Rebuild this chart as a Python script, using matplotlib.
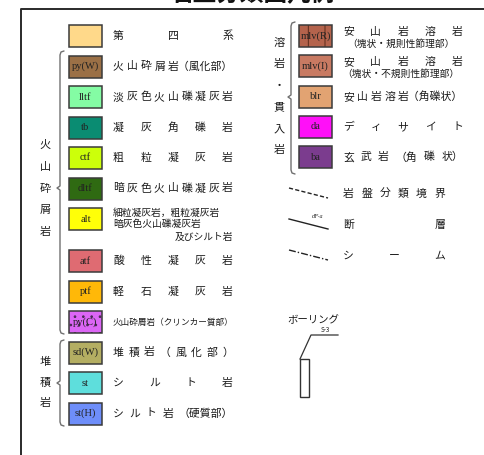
import matplotlib
matplotlib.use("Agg")
import matplotlib.pyplot as plt
from matplotlib.patches import Rectangle

plt.rcParams['font.family'] = ['Noto Sans CJK JP', 'DejaVu Sans']
plt.rcParams['hatch.linewidth'] = 0.7

# ---------------- data ----------------
title = "岩盤分類図凡例"

left_codes = ["", "py(W)", "lltf", "tb", "ctf", "dltf", "alt", "atf", "ptf", "py(C)", "sd(W)", "st", "st(H)"]
left_colors = ["#FFD98A", "#9B7046", "#84FCA4", "#0A8C72", "#CCFF0A", "#2F6A12", "#FFFF08",
               "#DF6B72", "#FFB808", "#DC66F5", "#B4AE62", "#5EDEDC", "#6E8EFA"]
left_labels = [
    ["第 四 系"],
    ["火 山 砕 屑 岩（風化部）"],
    ["淡 灰 色 火 山 礫 凝 灰 岩"],
    ["凝 灰 角 礫 岩"],
    ["粗 粒 凝 灰 岩"],
    ["暗 灰 色 火 山 礫 凝 灰 岩"],
    ["細粒凝灰岩，粗粒凝灰岩", "暗灰色火山礫凝灰岩", "及びシルト岩"],
    ["酸 性 凝 灰 岩"],
    ["軽 石 凝 灰 岩"],
    ["火山砕屑岩（クリンカー質部）"],
    ["堆 積 岩 （ 風 化 部 ）"],
    ["シ ル ト 岩"],
    ["シ ル ト 岩 （硬質部）"],
]

right_codes = ["mlv(R)", "mlv(I)", "blr", "da", "ba"]
right_colors = ["#B4634C", "#C87A62", "#E2A372", "#FF10F8", "#7B3C8E"]
right_labels = [
    ["安 山 岩 溶 岩", "（塊状・規則性節理部）"],
    ["安 山 岩 溶 岩", "（塊状・不規則性節理部）"],
    ["安 山 岩 溶 岩（角礫状）"],
    ["デ ィ サ イ ト"],
    ["玄 武 岩 （角 礫 状）"],
]

group_volcanic = "火山砕屑岩"
group_sediment = "堆積岩"
group_lava = "溶岩・貫入岩"

line_labels = ["岩 盤 分 類 境 界", "断 層", "シ ー ム"]
line_styles = [(0, (3, 1.6)), "-", (0, (5, 1.5, 1, 1.5))]
fault_tag = "dF-a"

boring_label = "ボーリング"
boring_id = "S-3"

# ---------------- figure ----------------
fig = plt.figure(figsize=(4.85, 4.55), dpi=100)
ax = fig.add_axes([0, 0, 1, 1])
ax.set_xlim(0, 485)
ax.set_ylim(455, 0)
ax.axis("off")

PT2PX = 100 / 72.0


def spread(text, x0, x1, y, size, align="justify"):
    tokens = text.split(" ")
    w = size * PT2PX
    widths = [len(t) * w for t in tokens]
    if align == "left" or (len(tokens) == 1 and align != "right"):
        ax.text(x0, y, text.replace(" ", ""), fontsize=size, ha="left", va="center", color="#1a1a1a")
        return
    if align == "right":
        ax.text(x1, y, text.replace(" ", ""), fontsize=size, ha="right", va="center", color="#1a1a1a")
        return
    gap = (x1 - x0 - sum(widths)) / (len(tokens) - 1)
    cx = x0
    for t, tw in zip(tokens, widths):
        ax.text(cx, y, t, fontsize=size, ha="left", va="center", color="#1a1a1a")
        cx += tw + gap


def box(x0, yc, color, code, hatch=None, hatch_color="#333333"):
    bw, bh = 33, 22
    ax.add_patch(Rectangle((x0, yc - bh / 2), bw, bh, facecolor=color, edgecolor="none"))
    if hatch:
        ax.add_patch(Rectangle((x0, yc - bh / 2), bw, bh, facecolor="none",
                               edgecolor=hatch_color, hatch=hatch, lw=0))
    ax.add_patch(Rectangle((x0, yc - bh / 2), bw, bh, facecolor="none",
                           edgecolor="#3a3a3a", lw=1.1))
    if code:
        ax.text(x0 + bw / 2, yc, code, fontsize=7.6, family="Liberation Serif",
                ha="center", va="center", color="#222222")


def brace(x, y0, y1, ym):
    xs = [x + 4, x + 1, x, x, x - 3, x, x, x + 1, x + 4]
    ys = [y0 - 1, y0, y0 + 3, ym - 2, ym, ym + 2, y1 - 3, y1, y1 + 1]
    ax.plot(xs, ys, color="#707070", lw=1.0, solid_capstyle="round")


def vertical(text, x, y0, step, size=8):
    for i, ch in enumerate(text):
        ax.text(x, y0 + i * step, ch, fontsize=size, ha="center", va="center", color="#1a1a1a")


# frame and title
ax.plot([21, 21, 486], [456, 8.5, 8.5], color="#2a2a2a", lw=1.4, clip_on=False)
fig.text(0.52, 1.0 + 6 / 455, title, fontsize=17, fontweight="bold",
         ha="center", va="center", color="#111111")

# left column
lx, ltx0, ltx1 = 69, 113, 233
yc = 36
for i, (code, col, lab) in enumerate(zip(left_codes, left_colors, left_labels)):
    hatch = ".." if code == "py(C)" else None
    box(lx, yc, col, code, hatch=hatch, hatch_color="#4a2a55")
    if len(lab) == 1:
        size = 6.2 if len(lab[0].replace(" ", "")) > 12 else 7.8
        spread(lab[0], ltx0, ltx1, yc, size)
    else:
        spread(lab[0], ltx0, ltx1, yc - 6.5, 7.0, align="left")
        spread(lab[1], ltx0, ltx1, yc + 4.5, 7.0, align="left")
        spread(lab[2], ltx0, ltx1, yc + 17.5, 7.0, align="right")
    yc += 30.5 + (11.5 if len(lab) > 2 else 0)

# right column
rx, rtx0, rtx1 = 299, 343, 463
for i, (code, col, lab) in enumerate(zip(right_codes, right_colors, right_labels)):
    yc = 36 + i * 30.3
    hatch = "|" if code == "mlv(R)" else None
    box(rx, yc, col, code, hatch=hatch, hatch_color="#5a2a1a")
    if len(lab) == 1:
        spread(lab[0], rtx0, rtx1, yc, 7.8)
    else:
        spread(lab[0], rtx0, rtx1, yc - 4.5, 7.8)
        ax.text((rtx0 + rtx1) / 2 - 2, yc + 7.5, lab[1], fontsize=7.0, ha="center",
                va="center", color="#1a1a1a")

# group labels and braces
vertical(group_volcanic, 45, 145, 21.8)
brace(60, 52, 333, 188)
vertical(group_sediment, 45, 362, 20.5)
brace(60, 341, 425, 383)
vertical(group_lava, 279, 43, 21.5)
brace(291, 23, 173, 97)

# boundary line symbols
for i, (lab, ls) in enumerate(zip(line_labels, line_styles)):
    y = 193 + i * 31
    ax.plot([289, 328], [y - 5, y + 5], color="#222222", lw=1.0, linestyle=ls)
    spread(lab, 343, 445, y + 1, 7.8)
    if i == 1:
        ax.text(318, y - 7, fault_tag, fontsize=3.8, style="italic", ha="center",
                va="center", color="#222222", family="DejaVu Serif")

# boring symbol
ax.text(313, 320, boring_label, fontsize=7.5, ha="center", va="center", color="#1a1a1a")
ax.text(325, 330, boring_id, fontsize=4.5, ha="center", va="center", color="#1a1a1a")
ax.plot([338, 311, 300], [335, 335, 359], color="#333333", lw=0.9)
ax.add_patch(Rectangle((300, 359), 9, 38, facecolor="white", edgecolor="#333333", lw=1.0))

fig.savefig("out.png", dpi=100)
